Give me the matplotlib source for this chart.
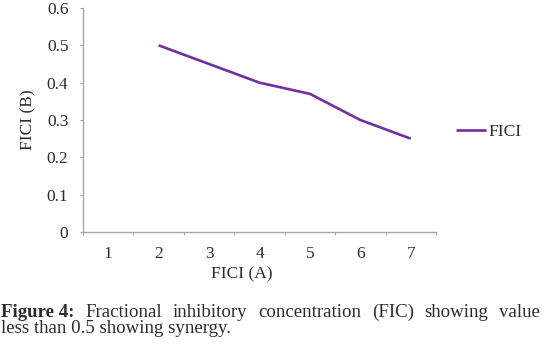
import numpy as np
import matplotlib
matplotlib.use("Agg")
import matplotlib.pyplot as plt

categories = ["1", "2", "3", "4", "5", "6", "7"]
fici_values = [np.nan, 0.50, 0.45, 0.40, 0.37, 0.30, 0.25]
y_ticks = [0, 0.1, 0.2, 0.3, 0.4, 0.5, 0.6]
y_tick_labels = ["0", "0.1", "0.2", "0.3", "0.4", "0.5", "0.6"]
series_name = "FICI"
x_label = "FICI (A)"
y_label = "FICI (B)"
caption_bold = "Figure 4:"
caption_line1 = "Fractional inhibitory concentration (FIC) showing value"
caption_line2 = "less than 0.5 showing synergy."

W, H = 542, 353
fig = plt.figure(figsize=(W / 100, H / 100), dpi=100)
serif = "Liberation Serif"
text_color = "#2b2b2b"
line_color = "#7030A0"
spine_color = "#a6a6a6"
fs = 12.5

ax = fig.add_axes([83 / W, 1 - 232 / H, (436 - 83) / W, (232 - 8) / H])
x = np.arange(1, len(categories) + 1)
line, = ax.plot(x, fici_values, color=line_color, lw=1.9, solid_capstyle="butt")

ax.set_xlim(0.5, len(categories) + 0.5)
ax.set_ylim(0, 0.6)
for s in ["top", "right"]:
    ax.spines[s].set_visible(False)
for s in ["left", "bottom"]:
    ax.spines[s].set_color(spine_color)
    ax.spines[s].set_linewidth(1.0)

ax.set_yticks(y_ticks)
ax.set_yticklabels(y_tick_labels, fontfamily=serif, fontsize=fs, color=text_color)
ax.tick_params(axis="y", length=2.5, color=spine_color, pad=8)

ax.set_xticks(np.arange(0.5, len(categories) + 1, 1.0))
ax.set_xticklabels([])
ax.set_xticks(x, minor=True)
ax.set_xticklabels(categories, minor=True, fontfamily=serif, fontsize=fs, color=text_color)
ax.tick_params(axis="x", which="major", length=2.5, color=spine_color)
ax.tick_params(axis="x", which="minor", length=0, pad=10)

ax.set_xlabel(x_label, fontfamily=serif, fontsize=fs, color=text_color, labelpad=3)
ax.xaxis.label.set_x((242 - 83) / (436 - 83))
ax.set_ylabel(y_label, fontfamily=serif, fontsize=fs, color=text_color)
ax.yaxis.set_label_coords(-(83 - 36) / (436 - 83), 0.5)

fig.legend([line], [series_name], loc="center left", bbox_to_anchor=(456 / W, 1 - 132 / H),
           frameon=False, prop={"family": serif, "size": fs}, handlelength=1.75,
           handletextpad=0.12, borderpad=0, borderaxespad=0, labelcolor=text_color)

# caption, first line justified
cap_size = 13.6
fig.canvas.draw()
renderer = fig.canvas.get_renderer()
words1 = [(caption_bold, "bold")] + [(w, "normal") for w in caption_line1.split()]
widths = []
arts = []
for w, wt in words1:
    t = fig.text(0, 0, w, fontfamily=serif, fontsize=cap_size, fontweight=wt, color=text_color)
    bb = t.get_window_extent(renderer)
    widths.append(bb.width)
    arts.append(t)
left_px, right_px = 1, 540
gap = (right_px - left_px - sum(widths)) / (len(words1) - 1)
xpos = left_px
y1 = 1 - 317 / H
for t, wdt in zip(arts, widths):
    t.set_position((xpos / W, y1))
    t.set_va("baseline")
    xpos += wdt + gap
fig.text(left_px / W, 1 - 333 / H, caption_line2, fontfamily=serif, fontsize=cap_size,
         color=text_color, va="baseline")

fig.savefig("out.png", dpi=100, facecolor="white")
